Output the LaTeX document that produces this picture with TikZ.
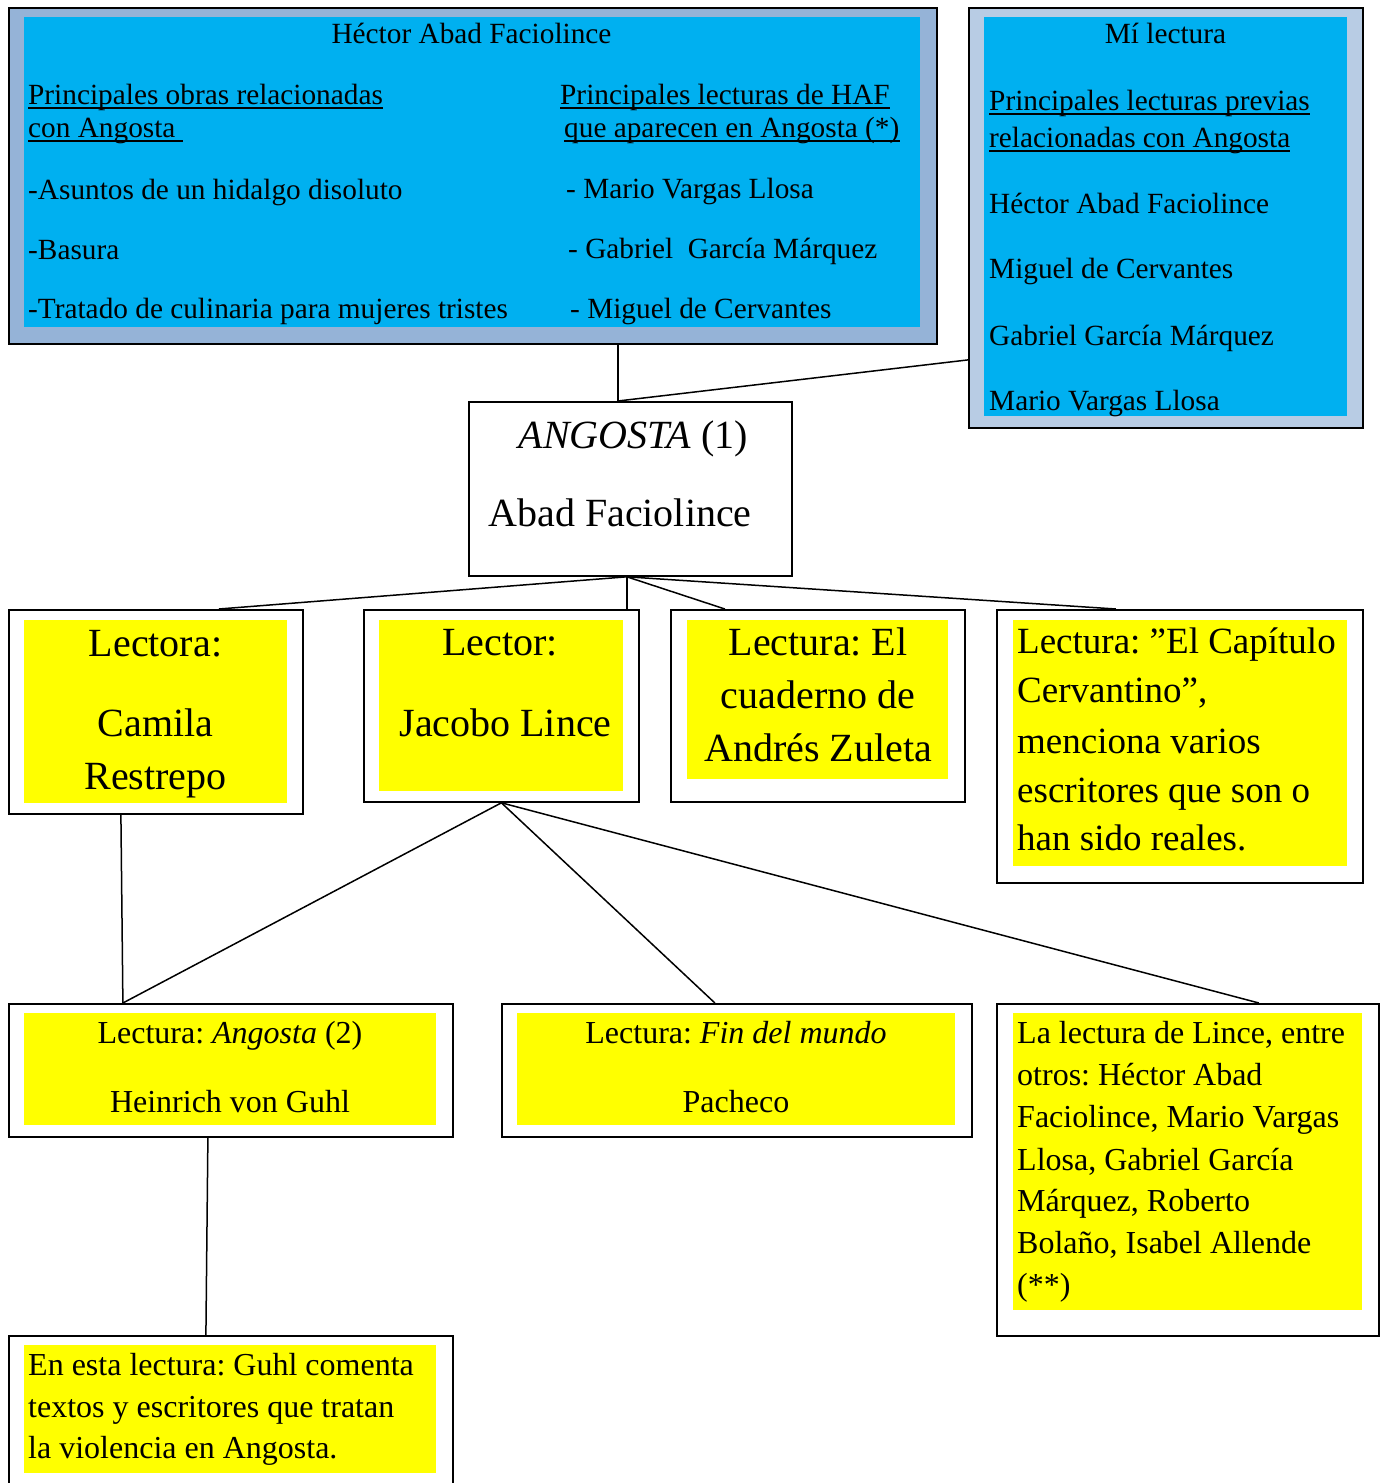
\documentclass[tikz,border=0pt]{standalone}
\usepackage{fontspec}
\setmainfont{Liberation Serif}
\usetikzlibrary{positioning}
\frenchspacing

\definecolor{cyanfill}{HTML}{00B0F0}
\definecolor{bandA}{HTML}{95B3D7}
\definecolor{bandB}{HTML}{B8CCE4}
\definecolor{yel}{HTML}{FFFF00}

\newcommand\fsmall{\fontsize{29.3}{35}\selectfont}
\newcommand\fmid{\fontsize{32}{42}\selectfont}
\newcommand\fcap{\fontsize{37}{49}\selectfont}
\newcommand\fbig{\fontsize{40}{53}\selectfont}

\tikzset{
  frame/.style={draw, line width=1.8pt, anchor=north west, inner sep=0pt, fill=white},
  link/.style={line width=1.5pt},
  lbl/.style={inner sep=0pt, anchor=base west},
  clbl/.style={inner sep=0pt, anchor=base},
  uline/.style={line width=1.5pt}
}

\begin{document}
\begin{tikzpicture}[x=1pt,y=-1pt]
\useasboundingbox (0,0) rectangle (1381,1483);
\clip (0,0) rectangle (1381,1483);
\fill[white] (0,0) rectangle (1381,1483);

% boxes
\node[frame, fill=bandA, minimum width=928pt, minimum height=336pt] (haf) at (8,7) {};
\fill[cyanfill] (24,17) rectangle (920,327);
\node[frame, fill=bandB, minimum width=394pt, minimum height=420pt] (mi) at (968,7) {};
\fill[cyanfill] (984,17) rectangle (1347,416);
\node[frame, minimum width=323pt, minimum height=174pt] (ang) at (468,401) {};

\node[frame, minimum width=294pt, minimum height=204pt] (lectora) at (8,609) {};
\fill[yel] (24,620) rectangle (287,803);
\node[frame, minimum width=275pt, minimum height=192pt] (lector) at (363,609) {};
\fill[yel] (379,620) rectangle (623,791);
\node[frame, minimum width=294pt, minimum height=192pt] (cuaderno) at (670,609) {};
\fill[yel] (687,620) rectangle (948,779);
\node[frame, minimum width=366pt, minimum height=273pt] (capitulo) at (996,609) {};
\fill[yel] (1013,620) rectangle (1347,866);

\node[frame, minimum width=444pt, minimum height=133pt] (ang2) at (8,1003) {};
\fill[yel] (24,1013) rectangle (436,1125);
\node[frame, minimum width=470pt, minimum height=133pt] (fin) at (501,1003) {};
\fill[yel] (517,1013) rectangle (955,1125);
\node[frame, minimum width=382pt, minimum height=332pt] (lince) at (996,1003) {};
\fill[yel] (1013,1013) rectangle (1362,1310);
\node[frame, minimum width=444pt, minimum height=170pt] (esta) at (8,1335) {};
\fill[yel] (24,1345) rectangle (436,1473);

% connectors
\draw[link] ([xshift=145pt]haf.south) -- ([xshift=-12.5pt]ang.north);
\draw[link] ([yshift=-142pt]mi.west) -- ([xshift=-12.5pt]ang.north);
\draw[link] ([xshift=-3.5pt]ang.south) -- ([xshift=63pt]lectora.north);
\draw[link] ([xshift=-3.5pt]ang.south) -- ([xshift=125.5pt]lector.north);
\draw[link] ([xshift=-3.5pt]ang.south) -- ([xshift=-93pt]cuaderno.north);
\draw[link] ([xshift=-3.5pt]ang.south) -- ([xshift=-64pt]capitulo.north);
\draw[link] (lector.south) -- ([xshift=-108pt]ang2.north);
\draw[link] (lector.south) -- ([xshift=-22pt]fin.north);
\draw[link] (lector.south) -- ([xshift=71pt]lince.north);
\draw[link] ([xshift=-35pt]lectora.south) -- ([xshift=-108pt]ang2.north);
\draw[link] ([xshift=-23pt]ang2.south) -- ([xshift=-25pt]esta.north);

% Hector Abad Faciolince
\node[clbl, font=\fsmall] (haftitle) at (471.5,43) {Héctor Abad Faciolince};
\node[lbl, font=\fsmall] (obrasA) at (28,104) {Principales obras relacionadas};
\node[lbl, font=\fsmall] (obrasB) at (28,137) {con Angosta\kern0.25em};
\node[lbl, font=\fsmall] (lectA) at (560,104) {Principales lecturas de HAF};
\node[lbl, font=\fsmall] (lectB) at (564,137) {que aparecen en Angosta (*)};
\foreach \n in {obrasA,obrasB,lectA,lectB}
  \draw[uline] ([yshift=-4pt]\n.base west) -- ([yshift=-4pt]\n.base east);
\foreach \t/\y [count=\i] in {{-Asuntos de un hidalgo disoluto}/199, {-Basura}/259, {-Tratado de culinaria para mujeres tristes}/318}
  \node[lbl, font=\fsmall] (obra\i) at (28,\y) {\t};
\foreach \t/\x/\y [count=\i] in {{- Mario Vargas Llosa}/566/198, {- Gabriel\ \ García Márquez}/568/258, {- Miguel de Cervantes}/570/318}
  \node[lbl, font=\fsmall] (haflect\i) at (\x,\y) {\t};

% Mi lectura
\node[clbl, font=\fsmall] (mititle) at (1165.5,43) {Mí lectura};
\node[lbl, font=\fsmall] (previasA) at (989,110) {Principales lecturas previas};
\node[lbl, font=\fsmall] (previasB) at (989,147) {relacionadas con Angosta};
\foreach \n in {previasA,previasB}
  \draw[uline] ([yshift=-4pt]\n.base west) -- ([yshift=-4pt]\n.base east);
\foreach \t/\y [count=\i] in {{Héctor Abad Faciolince}/213, {Miguel de Cervantes}/278, {Gabriel García Márquez}/345, {Mario Vargas Llosa}/410}
  \node[lbl, font=\fsmall] (milect\i) at (989,\y) {\t};

% Angosta (1)
\node[clbl, font=\fbig] (angA) at (633.5,448) {\textit{ANGOSTA} (1)};
\node[clbl, font=\fbig] (angB) at (620,526) {Abad Faciolince};

% lectores y lecturas
\foreach \t/\y [count=\i] in {{Lectora:}/656, {Camila}/736, {Restrepo}/789}
  \node[clbl, font=\fbig] (lectoraT\i) at (155.5,\y) {\t};
\node[clbl, font=\fbig] (lectorA) at (500,655) {Lector:};
\node[clbl, font=\fbig] (lectorB) at (505.5,736) {Jacobo Lince};
\foreach \t/\y [count=\i] in {{Lectura: El}/655, {cuaderno de}/708, {Andrés Zuleta}/761}
  \node[clbl, font=\fbig] (cuadernoT\i) at (818,\y) {\t};
\foreach \t/\y [count=\i] in {{Lectura: ”El Capítulo}/653, {Cervantino”,}/702, {menciona varios}/753, {escritores que son o}/802, {han sido reales.}/850}
  \node[lbl, font=\fcap] (capituloT\i) at (1017,\y) {\t};

\foreach \t/\y [count=\i] in {{Lectura: \textit{Angosta} (2)}/1043, {Heinrich von Guhl}/1112}
  \node[clbl, font=\fmid] (ang2T\i) at (230,\y) {\t};
\foreach \t/\y [count=\i] in {{Lectura: \textit{Fin del mundo}}/1043, {Pacheco}/1112}
  \node[clbl, font=\fmid] (finT\i) at (736,\y) {\t};
\foreach \t/\y [count=\i] in {{La lectura de Lince, entre}/1043, {otros: Héctor Abad}/1085, {Faciolince, Mario Vargas}/1127, {Llosa, Gabriel García}/1170, {Márquez, Roberto}/1211, {Bolaño, Isabel Allende}/1253, {(**)}/1295}
  \node[lbl, font=\fmid] (linceT\i) at (1017,\y) {\t};
\foreach \t/\y [count=\i] in {{En esta lectura: Guhl comenta}/1375, {textos y escritores que tratan}/1417, {la violencia en Angosta.}/1458}
  \node[lbl, font=\fmid] (estaT\i) at (28,\y) {\t};
\end{tikzpicture}
\end{document}
